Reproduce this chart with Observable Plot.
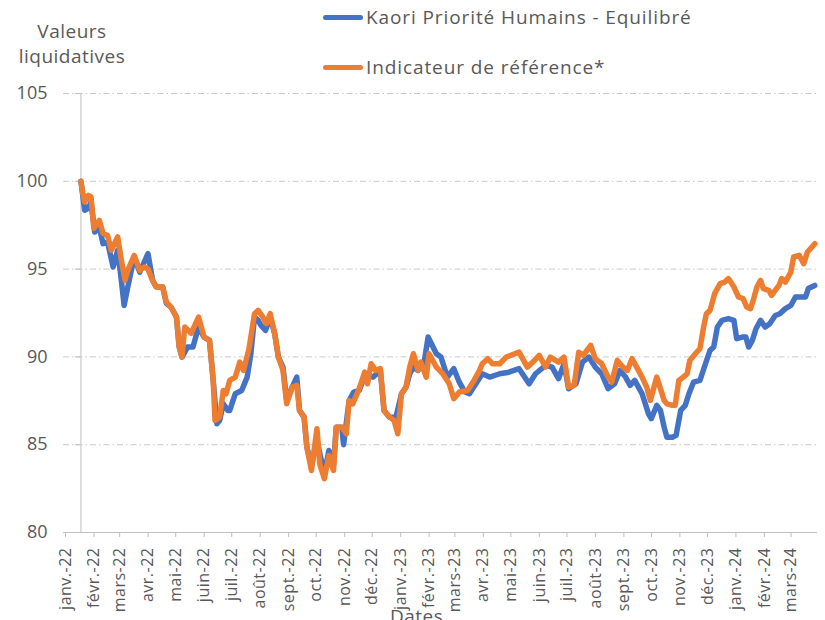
<!DOCTYPE html>
<html><head><meta charset="utf-8">
<script src="https://cdn.jsdelivr.net/npm/d3@7"></script>
<script src="https://cdn.jsdelivr.net/npm/@observablehq/plot@0.6"></script>
<style>
body{margin:0;background:#fff;font-family:"Open Sans",sans-serif;color:#595959;}
#wrap{position:relative;width:825px;height:620px;overflow:hidden;}
#header{position:relative;height:80px;}
.ytitle{position:absolute;left:0;width:144px;text-align:center;font-size:19px;letter-spacing:0.5px;line-height:25px;top:19px;}
.leg{position:absolute;left:323px;font-size:19px;letter-spacing:0.9px;line-height:24px;display:flex;align-items:center;white-space:nowrap;}
.leg .sw{width:40px;height:5px;border-radius:3px;margin-right:3px;}
#xtitle{position:absolute;left:390px;top:603px;font-size:19px;letter-spacing:0.5px;}
g[aria-label="x-axis tick label"] text{letter-spacing:0.5px;}
</style></head>
<body>
<div id="wrap">
  <div id="header">
    <div class="ytitle">Valeurs<br>liquidatives</div>
    <div class="leg" style="top:5px"><span class="sw" style="background:#4472C4"></span>Kaori Priorité Humains - Equilibré</div>
    <div class="leg" style="top:55px"><span class="sw" style="background:#ED7D31"></span>Indicateur de référence*</div>
  </div>
  <div id="chart"></div>
  <div id="xtitle">Dates</div>
</div>
<script>
const monthNames = ["janv.","févr.","mars","avr.","mai","juin","juil.","août","sept.","oct.","nov.","déc."];
const yTicks = [80, 85, 90, 95, 100, 105];

const fundDates = ["2022-01-20","2022-01-24","2022-01-28","2022-01-31","2022-02-04","2022-02-09","2022-02-13","2022-02-18","2022-02-24","2022-03-01","2022-03-05","2022-03-08","2022-03-12","2022-03-19","2022-03-25","2022-04-03","2022-04-08","2022-04-12","2022-04-19","2022-04-23","2022-04-28","2022-05-04","2022-05-07","2022-05-10","2022-05-16","2022-05-22","2022-05-28","2022-06-03","2022-06-09","2022-06-13","2022-06-17","2022-06-20","2022-06-24","2022-06-29","2022-07-01","2022-07-07","2022-07-14","2022-07-20","2022-07-24","2022-07-28","2022-08-01","2022-08-04","2022-08-09","2022-08-14","2022-08-19","2022-08-23","2022-08-28","2022-09-01","2022-09-07","2022-09-12","2022-09-15","2022-09-20","2022-09-23","2022-09-28","2022-10-04","2022-10-12","2022-10-17","2022-10-22","2022-10-25","2022-10-31","2022-11-02","2022-11-08","2022-11-13","2022-11-19","2022-11-25","2022-12-04","2022-12-12","2022-12-16","2022-12-22","2022-12-29","2023-01-04","2023-01-09","2023-01-13","2023-01-17","2023-01-22","2023-01-29","2023-02-02","2023-02-11","2023-02-16","2023-02-23","2023-03-02","2023-03-08","2023-03-14","2023-03-19","2023-04-02","2023-04-10","2023-04-21","2023-05-01","2023-05-12","2023-05-23","2023-05-30","2023-06-10","2023-06-17","2023-06-24","2023-06-30","2023-07-05","2023-07-13","2023-07-20","2023-07-27","2023-08-03","2023-08-10","2023-08-17","2023-08-24","2023-08-30","2023-09-05","2023-09-10","2023-09-15","2023-09-23","2023-09-30","2023-10-03","2023-10-09","2023-10-13","2023-10-17","2023-10-20","2023-10-26","2023-10-30","2023-11-04","2023-11-09","2023-11-13","2023-11-18","2023-11-25","2023-12-01","2023-12-06","2023-12-10","2023-12-14","2023-12-19","2023-12-26","2024-01-01","2024-01-04","2024-01-10","2024-01-14","2024-01-17","2024-01-21","2024-01-25","2024-01-30","2024-02-04","2024-02-09","2024-02-15","2024-02-20","2024-02-26","2024-03-03","2024-03-08","2024-03-13","2024-03-19","2024-03-22","2024-03-29"];
const fundValues = [100.0,98.35,98.46,98.82,97.11,97.40,96.45,96.54,95.12,96.07,94.36,92.93,93.98,95.69,94.83,95.88,94.36,93.98,93.98,93.05,92.84,92.27,90.56,89.99,90.56,90.56,91.70,91.13,90.94,88.66,86.19,86.38,87.33,86.95,86.95,87.90,88.09,88.85,90.18,92.27,92.08,91.80,91.51,92.27,91.32,89.99,89.42,87.52,88.28,88.85,86.95,86.57,84.86,83.82,85.24,83.34,84.67,83.82,86.00,86.00,85.00,87.52,88.00,88.09,88.95,88.85,89.23,86.95,86.57,86.57,87.90,88.28,89.04,89.42,89.23,89.80,91.13,90.18,89.99,88.85,89.33,88.56,88.00,87.90,89.04,88.85,89.04,89.13,89.33,88.47,89.04,89.52,89.42,88.76,89.61,88.19,88.47,89.70,89.99,89.42,89.04,88.19,88.47,89.23,88.85,88.38,88.66,87.90,86.76,86.48,87.24,86.95,86.00,85.43,85.43,85.53,86.95,87.24,87.90,88.56,88.66,89.61,90.37,90.56,91.70,92.08,92.18,92.08,91.04,91.13,91.13,90.56,90.94,91.60,92.08,91.70,91.89,92.36,92.46,92.75,92.93,93.41,93.41,93.41,93.89,94.07];

const refDates = ["2022-01-20","2022-01-22","2022-01-24","2022-01-28","2022-01-31","2022-02-03","2022-02-09","2022-02-13","2022-02-18","2022-02-22","2022-03-01","2022-03-05","2022-03-09","2022-03-12","2022-03-19","2022-03-25","2022-03-30","2022-04-03","2022-04-08","2022-04-12","2022-04-19","2022-04-23","2022-04-28","2022-05-04","2022-05-07","2022-05-10","2022-05-13","2022-05-20","2022-05-28","2022-06-03","2022-06-09","2022-06-13","2022-06-15","2022-06-20","2022-06-24","2022-06-27","2022-07-01","2022-07-07","2022-07-12","2022-07-16","2022-07-22","2022-07-28","2022-08-01","2022-08-06","2022-08-10","2022-08-14","2022-08-19","2022-08-23","2022-08-28","2022-09-01","2022-09-07","2022-09-12","2022-09-15","2022-09-20","2022-09-23","2022-09-28","2022-10-04","2022-10-07","2022-10-12","2022-10-17","2022-10-22","2022-10-25","2022-10-31","2022-11-05","2022-11-08","2022-11-12","2022-11-19","2022-11-25","2022-11-28","2022-12-02","2022-12-07","2022-12-12","2022-12-16","2022-12-22","2022-12-27","2022-12-31","2023-01-04","2023-01-09","2023-01-13","2023-01-17","2023-01-22","2023-01-25","2023-01-31","2023-02-03","2023-02-11","2023-02-18","2023-02-25","2023-03-02","2023-03-08","2023-03-17","2023-03-24","2023-03-30","2023-04-02","2023-04-08","2023-04-13","2023-04-21","2023-04-28","2023-05-12","2023-05-21","2023-05-27","2023-06-03","2023-06-10","2023-06-15","2023-06-24","2023-06-30","2023-07-05","2023-07-11","2023-07-16","2023-07-21","2023-07-29","2023-08-03","2023-08-10","2023-08-17","2023-08-21","2023-08-27","2023-09-02","2023-09-07","2023-09-12","2023-09-18","2023-09-23","2023-09-28","2023-10-02","2023-10-09","2023-10-17","2023-10-20","2023-10-26","2023-10-29","2023-11-02","2023-11-07","2023-11-11","2023-11-14","2023-11-20","2023-11-25","2023-11-29","2023-12-02","2023-12-06","2023-12-11","2023-12-17","2023-12-22","2023-12-26","2024-01-01","2024-01-06","2024-01-11","2024-01-15","2024-01-19","2024-01-22","2024-01-26","2024-01-30","2024-02-02","2024-02-08","2024-02-11","2024-02-19","2024-02-22","2024-02-26","2024-03-03","2024-03-06","2024-03-12","2024-03-17","2024-03-21","2024-03-26","2024-03-29"];
const refValues = [100.0,99.32,98.82,99.20,99.11,97.32,97.78,97.04,96.92,96.07,96.83,95.50,94.36,94.93,95.78,94.93,95.12,95.00,94.36,93.98,93.98,93.12,92.84,92.27,90.56,89.99,91.70,91.34,92.27,91.13,90.94,88.66,86.38,86.57,88.09,87.90,88.66,88.85,89.70,89.23,90.47,92.46,92.65,92.27,91.89,92.46,91.32,89.99,89.23,87.33,88.28,88.38,86.95,86.57,84.86,83.53,85.91,83.91,83.06,84.39,83.53,86.00,86.00,85.62,87.52,87.33,88.19,89.13,88.47,89.61,89.23,89.33,86.95,86.57,86.38,85.62,87.90,88.28,89.42,90.18,89.23,89.70,88.85,90.18,89.42,89.04,88.47,87.62,88.00,88.09,88.66,89.23,89.61,89.90,89.61,89.61,89.99,90.27,89.42,89.70,90.09,89.42,89.99,89.70,89.99,88.28,88.38,90.27,90.09,90.66,89.90,89.61,88.85,88.56,89.80,89.42,89.23,89.90,89.33,88.85,88.28,87.52,88.85,87.52,87.33,87.24,87.24,88.66,88.85,89.04,89.80,90.18,90.47,91.70,92.46,92.65,93.60,94.17,94.26,94.46,93.98,93.41,93.32,92.84,92.75,93.22,93.98,94.36,93.89,93.79,93.50,94.07,94.46,94.26,94.83,95.69,95.78,95.31,95.97,96.26,96.45];

const fund = fundDates.map((d, i) => ({date: new Date(d), value: fundValues[i]}));
const ref = refDates.map((d, i) => ({date: new Date(d), value: refValues[i]}));
const start = new Date(fundDates[0]);
const monthTicks = d3.utcMonths(new Date("2022-01-01"), new Date("2024-03-15"));
const fmt = d => monthNames[d.getUTCMonth()] + "-" + String(d.getUTCFullYear()).slice(2);
const grid = "#c9c9c9";

const chart = Plot.plot({
  width: 825, height: 540,
  marginLeft: 63, marginRight: 8, marginTop: 13, marginBottom: 88,
  style: {fontFamily: "Open Sans, sans-serif", color: "#595959", background: "white", overflow: "visible"},
  x: {type: "utc", domain: [new Date("2022-01-01"), new Date("2024-04-01")]},
  y: {domain: [80, 105]},
  marks: [
    Plot.ruleY(yTicks.filter(d => d > 80), {stroke: grid, strokeDasharray: "6,3,1.5,3"}),
    Plot.ruleY([80], {stroke: "#bfbfbf"}),
    Plot.ruleX([start], {y1: 80, y2: 105, stroke: "#bfbfbf"}),
    Plot.ruleY(yTicks, {x1: () => d3.utcDay.offset(start, -6), x2: () => start, stroke: "#bfbfbf"}),
    Plot.axisY({ticks: yTicks, tickSize: 0, tickPadding: 16, fontSize: 18, label: null}),
    Plot.axisX({ticks: monthTicks, tickFormat: fmt, tickRotate: -90, tickSize: 5, tickPadding: 10, fontSize: 16, label: null, stroke: "#bfbfbf", dx: 2}),
    Plot.line(fund, {x: "date", y: "value", stroke: "#4472C4", strokeWidth: 5.5, strokeLinejoin: "round", strokeLinecap: "round"}),
    Plot.line(ref, {x: "date", y: "value", stroke: "#ED7D31", strokeWidth: 5.5, strokeLinejoin: "round", strokeLinecap: "round"})
  ]
});
document.getElementById("chart").appendChild(chart);
</script>
</body></html>
